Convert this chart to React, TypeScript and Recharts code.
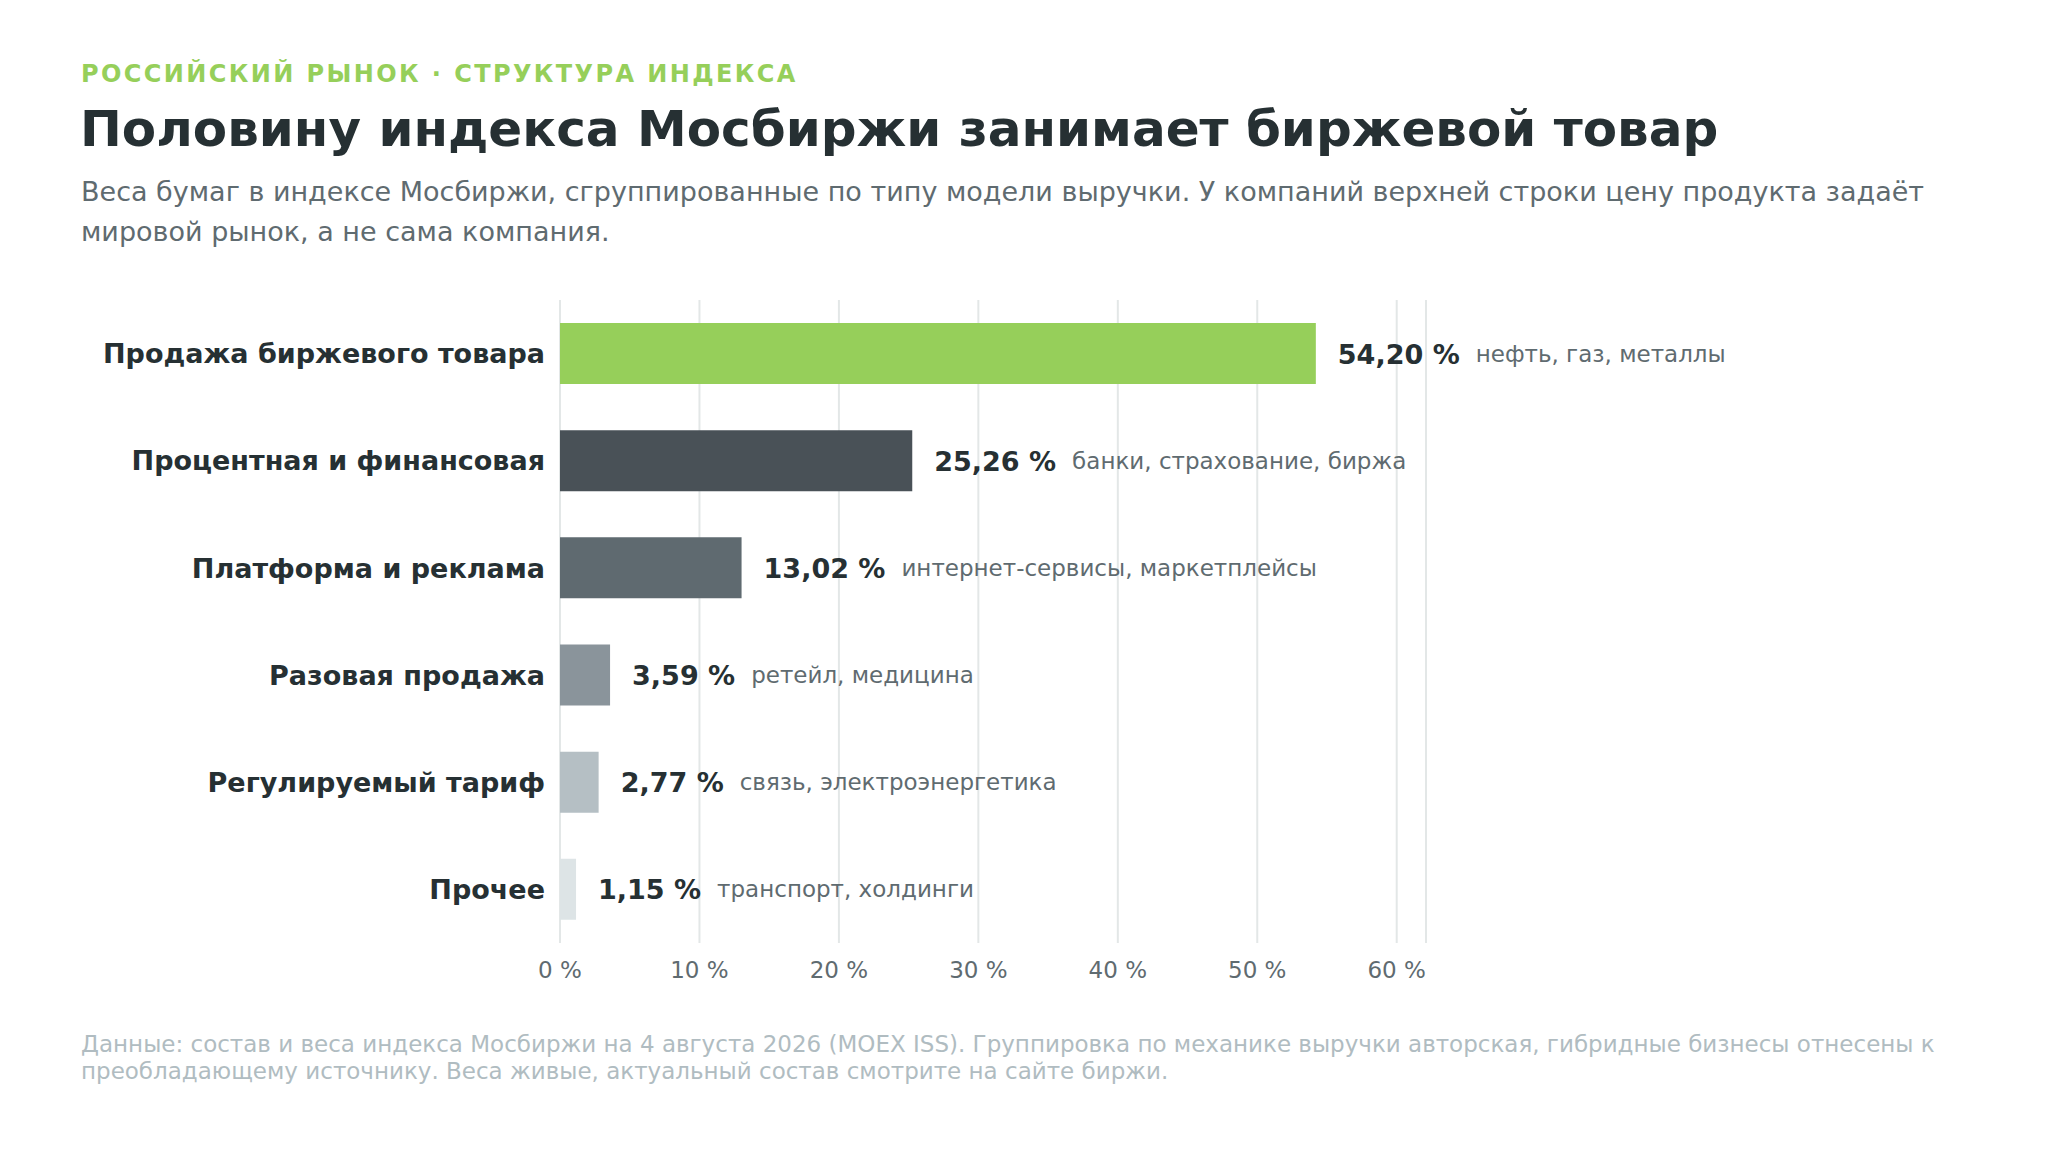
import React from "react";
import { BarChart, Bar, XAxis, YAxis, CartesianGrid, Cell, LabelList, ReferenceLine } from "recharts";

const categories = ["Продажа биржевого товара", "Процентная и финансовая", "Платформа и реклама", "Разовая продажа", "Регулируемый тариф", "Прочее"];
const weights = [54.2, 25.26, 13.02, 3.59, 2.77, 1.15];
const notes = ["нефть, газ, металлы", "банки, страхование, биржа", "интернет-сервисы, маркетплейсы", "ретейл, медицина", "связь, электроэнергетика", "транспорт, холдинги"];
const colors = ["#96cf5a", "#495157", "#5f6a70", "#8a949b", "#b5bfc4", "#dde4e6"];
const ticks = [0, 10, 20, 30, 40, 50, 60];
const XMAX = 62.1;

const data = categories.map((c, i) => ({ name: c, value: weights[i], note: notes[i] }));
const FONT = "'DejaVu Sans', sans-serif";
const fmt = (v: number) => v.toFixed(2).replace(".", ",") + " %";

const ValueLabel = (props: any) => {
  const { x, y, width, height, index } = props;
  return (
    <text x={x + width + 22} y={y + height / 2} dominantBaseline="central" fontFamily={FONT}>
      <tspan fontSize={27} fontWeight="bold" fill="#263033">{fmt(weights[index])}</tspan>
      <tspan dx={16} fontSize={23} fill="#5f6b70">{notes[index]}</tspan>
    </text>
  );
};

export default function App() {
  return (
    <div style={{ width: 2048, height: 1150, background: "#e9ecec", position: "relative", margin: -8, fontFamily: FONT }}>
      <div style={{ position: "absolute", inset: 0, background: "#fff", borderRadius: 26 }} />
      <div style={{ position: "absolute", left: 81, top: 60, fontSize: 24, fontWeight: "bold", letterSpacing: 2.4, color: "#96cf5a" }}>РОССИЙСКИЙ РЫНОК · СТРУКТУРА ИНДЕКСА</div>
      <div style={{ position: "absolute", left: 80, top: 100, fontSize: 50, fontWeight: "bold", color: "#263033" }}>Половину индекса Мосбиржи занимает биржевой товар</div>
      <div style={{ position: "absolute", left: 81, top: 172, width: 1900, fontSize: 27, lineHeight: "40px", color: "#5f6b70" }}>
        Веса бумаг в индексе Мосбиржи, сгруппированные по типу модели выручки. У компаний верхней строки цену продукта задаёт мировой рынок, а не сама компания.
      </div>
      <div style={{ position: "absolute", left: 0, top: 0 }}>
        <BarChart width={2048} height={1010} data={data} layout="vertical" margin={{ top: 300, right: 622, left: 20, bottom: 27 }} barSize={61}>
          <CartesianGrid horizontal={false} stroke="#e3e7e7" strokeWidth={2} />
          <ReferenceLine x={XMAX} stroke="#e3e7e7" strokeWidth={2} />
          <XAxis type="number" domain={[0, XMAX]} ticks={ticks} axisLine={false} tickLine={false} tickMargin={13} height={40}
            tickFormatter={(v: number) => `${v} %`} tick={{ fontSize: 23, fill: "#5f6b70", fontFamily: FONT }} />
          <YAxis type="category" dataKey="name" width={540} axisLine={false} tickLine={false} tickMargin={9}
            tick={{ fontSize: 27, fontWeight: "bold", fill: "#263033", fontFamily: FONT }} />
          <Bar dataKey="value" isAnimationActive={false}>
            {data.map((d, i) => <Cell key={i} fill={colors[i]} />)}
            <LabelList dataKey="value" content={ValueLabel} />
          </Bar>
        </BarChart>
      </div>
      <div style={{ position: "absolute", left: 81, top: 1031, width: 1900, fontSize: 23, lineHeight: "27px", color: "#b0bcc1" }}>
        Данные: состав и веса индекса Мосбиржи на 4 августа 2026 (MOEX ISS). Группировка по механике выручки авторская, гибридные бизнесы отнесены к преобладающему источнику. Веса живые, актуальный состав смотрите на сайте биржи.
      </div>
    </div>
  );
}
